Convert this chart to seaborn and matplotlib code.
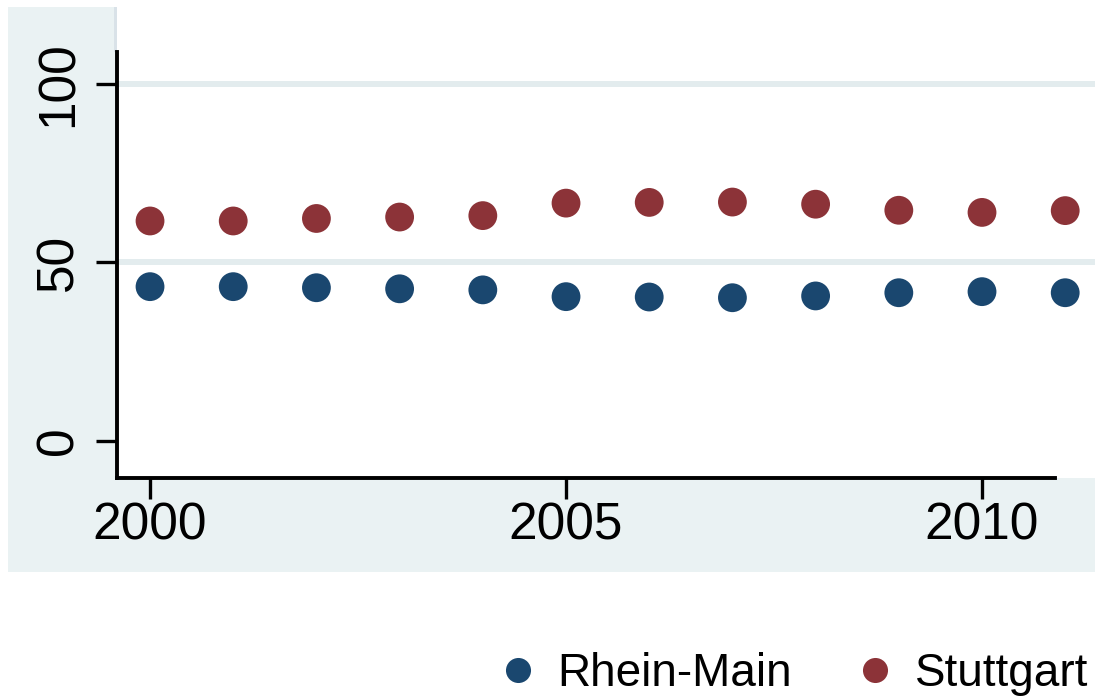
import matplotlib.pyplot as plt
import matplotlib.patches as mpatches
import seaborn as sns
import pandas as pd

# data
years = list(range(2000, 2012))
rhein_main = [43.2, 43.2, 42.9, 42.6, 42.3, 40.4, 40.3, 40.1, 40.6, 41.5, 41.8, 41.5]
stuttgart = [61.6, 61.6, 62.3, 62.7, 63.1, 66.6, 66.8, 66.9, 66.3, 64.6, 64.0, 64.5]
regions = ["Rhein-Main", "Stuttgart"]
y_ticks = [0, 50, 100]
x_ticks = [2000, 2005, 2010]
grid_values = [50, 100]

df = pd.DataFrame({
    "year": years * 2,
    "value": rhein_main + stuttgart,
    "region": [regions[0]] * len(years) + [regions[1]] * len(years),
})

sns.set_style("white")
plt.rcParams["font.family"] = ["Liberation Sans", "DejaVu Sans"]
plt.rcParams["text.color"] = "black"

bg = "#eaf2f3"
palette = {"Rhein-Main": "#1a476f", "Stuttgart": "#8c3338"}

fig = plt.figure(figsize=(10.95, 6.99), dpi=100, facecolor="white")
# stata-like outer background, drawn behind the axes
fig.patches.append(mpatches.Rectangle((8 / 1095, 1 - 572 / 699), 1 - 8 / 1095, (572 - 7) / 699,
                                      transform=fig.transFigure, facecolor=bg, edgecolor="none", zorder=-2))
fig.patches.append(mpatches.Rectangle((114 / 1095, 1 - 52 / 699), 8 / 1095, 45 / 699,
                                      transform=fig.transFigure, facecolor="#d9e2e8", edgecolor="none", zorder=-1))

ax = fig.add_axes([117 / 1095, 1 - 478 / 699, 1 - 117 / 1095, 478 / 699])
ax.set_facecolor("white")

for g in grid_values:
    ax.axhline(g, color="#e3ecee", lw=4.3, zorder=0)

sns.scatterplot(data=df, x="year", y="value", hue="region", palette=palette,
                s=430, edgecolor="none", ax=ax, zorder=3, clip_on=False)

ax.set_xlim(1999.603, 2011.358)
ax.set_ylim(-10.4, 123.5)
ax.set_xticks(x_ticks)
ax.set_yticks(y_ticks)
ax.set_xlabel("")
ax.set_ylabel("")

for side in ["top", "right"]:
    ax.spines[side].set_visible(False)
for side in ["left", "bottom"]:
    ax.spines[side].set_linewidth(2.8)
    ax.spines[side].set_color("black")
ax.spines["left"].set_bounds(-10.4, 109)
ax.spines["bottom"].set_bounds(1999.603, 2010.88)

ax.tick_params(axis="both", which="major", length=15, width=2.4, color="black",
               labelsize=37, labelcolor="black", direction="out", left=True, bottom=True)
ax.tick_params(axis="y", pad=9)
ax.tick_params(axis="x", pad=2)
for lbl in ax.get_yticklabels():
    lbl.set_rotation(90)
    lbl.set_va("center")

handles, labels = ax.get_legend_handles_labels()
ax.get_legend().remove()
leg = fig.legend(handles, labels, loc="center right", bbox_to_anchor=(1088 / 1095, 1 - 674 / 699),
                 ncol=2, frameon=False, fontsize=33, markerscale=0.87, borderpad=0,
                 handlelength=0.6, handletextpad=0.57, columnspacing=1.5, borderaxespad=0)
for t in leg.get_texts():
    t.set_color("black")

fig.savefig("out.png", dpi=100, facecolor="white")
